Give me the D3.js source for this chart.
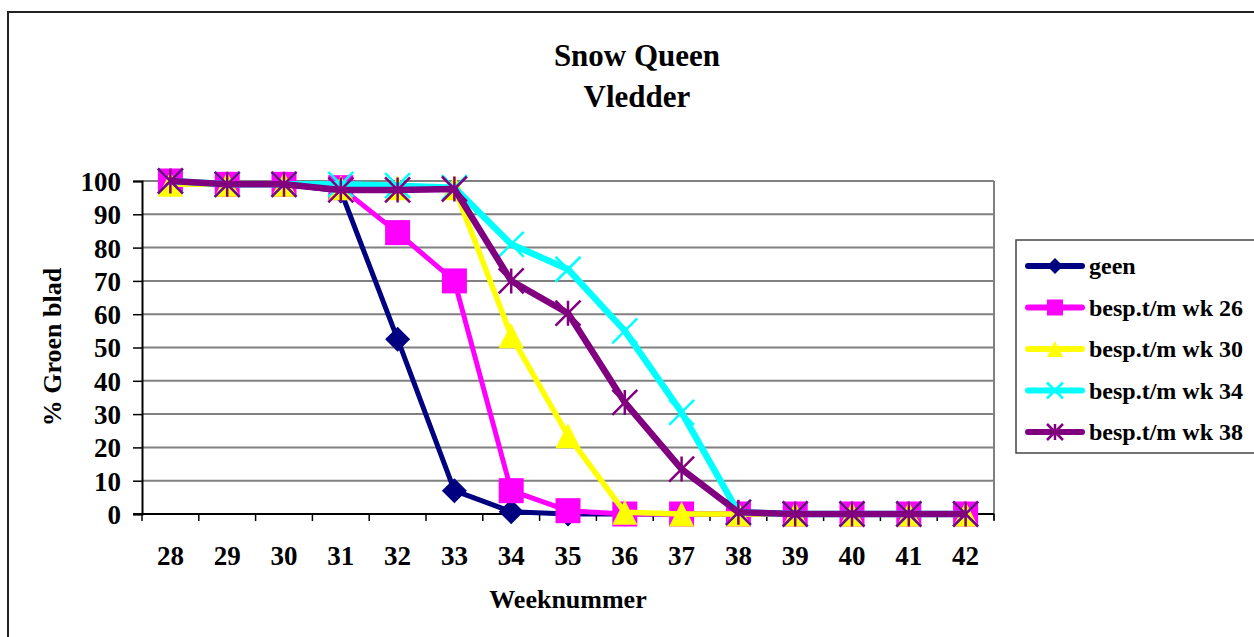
<!DOCTYPE html>
<html>
<head>
<meta charset="utf-8">
<script src="https://cdn.jsdelivr.net/npm/d3@7"></script>
<style>
  body { margin: 0; background: #fff; }
  text { font-family: "Liberation Serif", "Times New Roman", serif; font-weight: bold; fill: #000; }
</style>
</head>
<body>
<svg width="1254" height="637"></svg>
<script>
var weeks = [28, 29, 30, 31, 32, 33, 34, 35, 36, 37, 38, 39, 40, 41, 42];
var yTicks = [0, 10, 20, 30, 40, 50, 60, 70, 80, 90, 100];

var geen   = [99, 99, 99, 97, 52.5, 7, 0.7, 0, 0, 0, 0, 0, 0, 0, 0];
var wk26   = [100, 99, 99, 98, 84.5, 70, 7, 1, 0, 0, 0, 0, 0, 0, 0];
var wk30   = [99, 99, 99, 98, 98, 98, 53.5, 23.5, 0.5, 0, 0, 0, 0, 0, 0];
var wk34   = [100, 99, 99, 99, 98.6, 98, 81, 73.5, 55, 30.5, 0.5, 0, 0, 0, 0];
var wk38   = [100, 99, 99, 97.3, 97.3, 97.6, 70, 60.3, 33.5, 13.5, 0.5, 0, 0, 0, 0];

var seriesNames = ["geen", "besp.t/m wk 26", "besp.t/m wk 30", "besp.t/m wk 34", "besp.t/m wk 38"];
var seriesValues = [geen, wk26, wk30, wk34, wk38];
var seriesColors = ["#000080", "#ff00ff", "#ffff00", "#00ffff", "#800080"];
var seriesMarkers = ["diamond", "square", "triangle", "x", "star"];
var lineWidths = [5, 5, 5.5, 6.5, 6.5];

var svg = d3.select("svg");

// outer chart frame
svg.append("rect")
  .attr("x", 8).attr("y", 12)
  .attr("width", 1260).attr("height", 640)
  .attr("fill", "#fff")
  .attr("stroke", "#222")
  .attr("stroke-width", 2);

var plotLeft = 142, plotRight = 994, plotTop = 181, plotBottom = 514;

var x = d3.scalePoint().domain(weeks).range([plotLeft, plotRight]).padding(0.5);
var y = d3.scaleLinear().domain([0, 100]).range([plotBottom, plotTop]);
var step = x.step();

// gridlines
svg.append("g")
  .selectAll("line")
  .data(yTicks.slice(1))
  .enter().append("line")
  .attr("x1", plotLeft).attr("x2", plotRight)
  .attr("y1", function(d) { return y(d); })
  .attr("y2", function(d) { return y(d); })
  .attr("stroke", "#808080")
  .attr("stroke-width", 2);

// right border of plot area
svg.append("line")
  .attr("x1", plotRight).attr("x2", plotRight)
  .attr("y1", plotTop).attr("y2", plotBottom + 6)
  .attr("stroke", "#808080")
  .attr("stroke-width", 2);

// y axis
var yAxis = svg.append("g")
  .attr("transform", "translate(" + plotLeft + ",0)")
  .call(d3.axisLeft(y).tickValues(yTicks).tickSize(9).tickPadding(12));
yAxis.select(".domain").attr("stroke", "#000").attr("stroke-width", 2);
yAxis.selectAll(".tick line").attr("stroke", "#000").attr("stroke-width", 1.5);
yAxis.selectAll(".tick text")
  .attr("fill", "#000")
  .style("font-family", "Liberation Serif")
  .style("font-weight", "bold")
  .style("font-size", "27px")
  .attr("dy", "0.35em");

// x axis line + ticks between categories
svg.append("line")
  .attr("x1", plotLeft - 9).attr("x2", plotRight)
  .attr("y1", plotBottom).attr("y2", plotBottom)
  .attr("stroke", "#000").attr("stroke-width", 2);

var xbounds = weeks.map(function(w) { return x(w) - step / 2; }).concat([plotRight]);
svg.append("g")
  .selectAll("line")
  .data(xbounds)
  .enter().append("line")
  .attr("x1", function(d) { return d; })
  .attr("x2", function(d) { return d; })
  .attr("y1", plotBottom).attr("y2", plotBottom + 7)
  .attr("stroke", "#000")
  .attr("stroke-width", 1.5);

svg.append("g")
  .selectAll("text")
  .data(weeks)
  .enter().append("text")
  .attr("x", function(d) { return x(d); })
  .attr("y", 565)
  .attr("text-anchor", "middle")
  .style("font-size", "27px")
  .text(function(d) { return d; });

// titles
svg.append("text").attr("x", 637).attr("y", 66).attr("text-anchor", "middle")
  .style("font-size", "31px").text("Snow Queen");
svg.append("text").attr("x", 637).attr("y", 107).attr("text-anchor", "middle")
  .style("font-size", "31px").text("Vledder");
svg.append("text").attr("x", 568).attr("y", 608).attr("text-anchor", "middle")
  .style("font-size", "26px").text("Weeknummer");
svg.append("text")
  .attr("transform", "translate(61,347) rotate(-90)")
  .attr("text-anchor", "middle")
  .style("font-size", "26px").text("% Groen blad");

function drawMarker(g, type, color, s) {
  if (type == "diamond") {
    g.append("path").attr("d", "M0," + (-s) + "L" + s + ",0L0," + s + "L" + (-s) + ",0Z").attr("fill", color);
  } else if (type == "square") {
    g.append("rect").attr("x", -s).attr("y", -s).attr("width", 2 * s).attr("height", 2 * s).attr("fill", color);
  } else if (type == "triangle") {
    g.append("path").attr("d", "M0," + (-s) + "L" + s + "," + s + "L" + (-s) + "," + s + "Z").attr("fill", color);
  } else if (type == "x") {
    g.append("path").attr("d", "M" + (-s) + "," + (-s) + "L" + s + "," + s + "M" + s + "," + (-s) + "L" + (-s) + "," + s)
      .attr("stroke", color).attr("stroke-width", 2.5).attr("fill", "none");
  } else if (type == "star") {
    g.append("path").attr("d", "M" + (-s) + "," + (-s) + "L" + s + "," + s + "M" + s + "," + (-s) + "L" + (-s) + "," + s + "M0," + (-s) + "L0," + s)
      .attr("stroke", color).attr("stroke-width", 2.5).attr("fill", "none");
  }
}

var line = d3.line()
  .x(function(d, i) { return x(weeks[i]); })
  .y(function(d) { return y(d); });

seriesValues.forEach(function(vals, k) {
  var g = svg.append("g").attr("class", "series");
  g.append("path")
    .attr("d", line(vals))
    .attr("fill", "none")
    .attr("stroke", seriesColors[k])
    .attr("stroke-width", lineWidths[k])
    .attr("stroke-linejoin", "round");
  vals.forEach(function(v, i) {
    var m = g.append("g").attr("transform", "translate(" + x(weeks[i]) + "," + y(v) + ")");
    drawMarker(m, seriesMarkers[k], seriesColors[k], 12.5);
  });
});

// legend
var legend = svg.append("g").attr("transform", "translate(1016,240)");
legend.append("rect")
  .attr("x", 0).attr("y", 0)
  .attr("width", 260).attr("height", 213)
  .attr("fill", "#fff")
  .attr("stroke", "#444")
  .attr("stroke-width", 1.5);

var items = legend.selectAll(".legend3")
  .data(seriesNames)
  .enter().append("g")
  .attr("class", "legend3")
  .attr("transform", function(d, i) { return "translate(0," + (26 + i * 41.5) + ")"; });

items.append("line")
  .attr("x1", 12).attr("x2", 66)
  .attr("y1", 0).attr("y2", 0)
  .attr("stroke", function(d, i) { return seriesColors[i]; })
  .attr("stroke-width", 6)
  .attr("stroke-linecap", "round");

items.each(function(d, i) {
  var m = d3.select(this).append("g").attr("transform", "translate(39,0)");
  drawMarker(m, seriesMarkers[i], seriesColors[i], 8);
});

items.append("text")
  .attr("x", 73).attr("y", 8)
  .style("font-size", "24px")
  .text(function(d) { return d; });
</script>
</body>
</html>
